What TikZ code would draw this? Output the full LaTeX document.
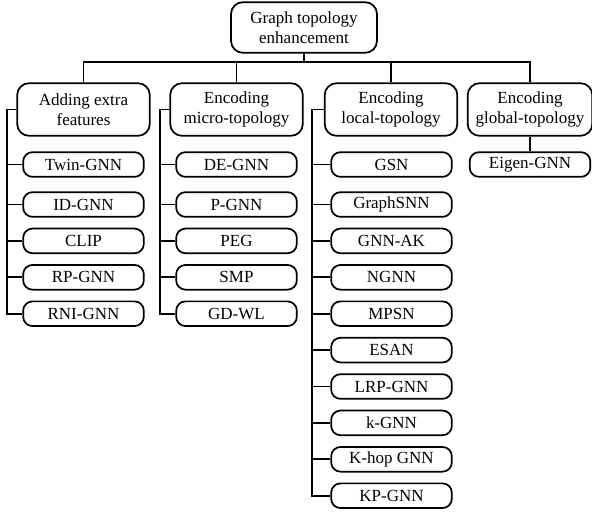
\documentclass[tikz,border=0pt]{standalone}
\usepackage{fontspec}
\setmainfont{Liberation Serif}
\begin{document}
\begin{tikzpicture}[x=0.75pt,y=-0.75pt,
    every node/.style={font=\fontsize{12.75}{15}\selectfont},
    rootbox/.style={draw,line width=1.3pt,rounded corners=9pt,align=center,
        minimum width=109.5pt,minimum height=38pt,inner sep=0pt},
    catbox/.style={draw,line width=1.3pt,rounded corners=9pt,align=center,
        minimum width=99.5pt,minimum height=39.5pt,inner sep=0pt},
    leafbox/.style={draw,line width=1.3pt,rounded corners=7pt,
        minimum width=90.5pt,minimum height=18.5pt,inner sep=0pt},
    link/.style={line width=1.3pt}]

\useasboundingbox (0,0) rectangle (592,512);

% root and categories
\node[rootbox] (root) at (304,27.5) {Graph topology\\enhancement};
\node[catbox] (feat) at (83.5,109.5) {Adding extra\\features};
\node[catbox] (micro) at (236.5,109.5) {Encoding\\micro-topology};
\node[catbox] (local) at (391,109.5) {Encoding\\local-topology};
\node[catbox,minimum width=93.5pt] (global) at (530,109.5) {Encoding\\global-topology};

\draw[link] (root.south) -- ++(0,8) coordinate (bus);
\foreach \cat in {feat,micro,local,global}
    \draw[link] (bus) -| (\cat.north);

% leaves
\foreach \name/\txt/\y in {twin/Twin-GNN/164.5, idgnn/ID-GNN/204.5,
        clip/CLIP/240.9, rpgnn/RP-GNN/277.3, rnignn/RNI-GNN/313.7}{
    \node[leafbox] (\name) at (83.5,\y) {\txt};
    \draw[link] (feat.west) -- ++(-9,0) |- (\name.west);
}
\foreach \name/\txt/\y in {degnn/DE-GNN/164.5, pgnn/P-GNN/204.5,
        peg/PEG/240.9, smp/SMP/277.3, gdwl/GD-WL/313.7}{
    \node[leafbox] (\name) at (236.5,\y) {\txt};
    \draw[link] (micro.west) -- ++(-9,0) |- (\name.west);
}
\foreach \name/\txt/\y in {gsn/GSN/164.5, graphsnn/GraphSNN/204.5,
        gnnak/GNN-AK/240.9, ngnn/NGNN/277.3, mpsn/MPSN/313.7,
        esan/ESAN/350.1, lrpgnn/LRP-GNN/386.5, kgnn/k-GNN/422.9,
        khop/K-hop GNN/459.3, kpgnn/KP-GNN/495.7}{
    \node[leafbox] (\name) at (391.5,\y) {\txt};
    \draw[link] (local.west) -- ++(-12,0) |- (\name.west);
}
\node[leafbox] (eigen) at (530,164.5) {Eigen-GNN};
\draw[link] (global) -- (eigen);

\end{tikzpicture}
\end{document}
